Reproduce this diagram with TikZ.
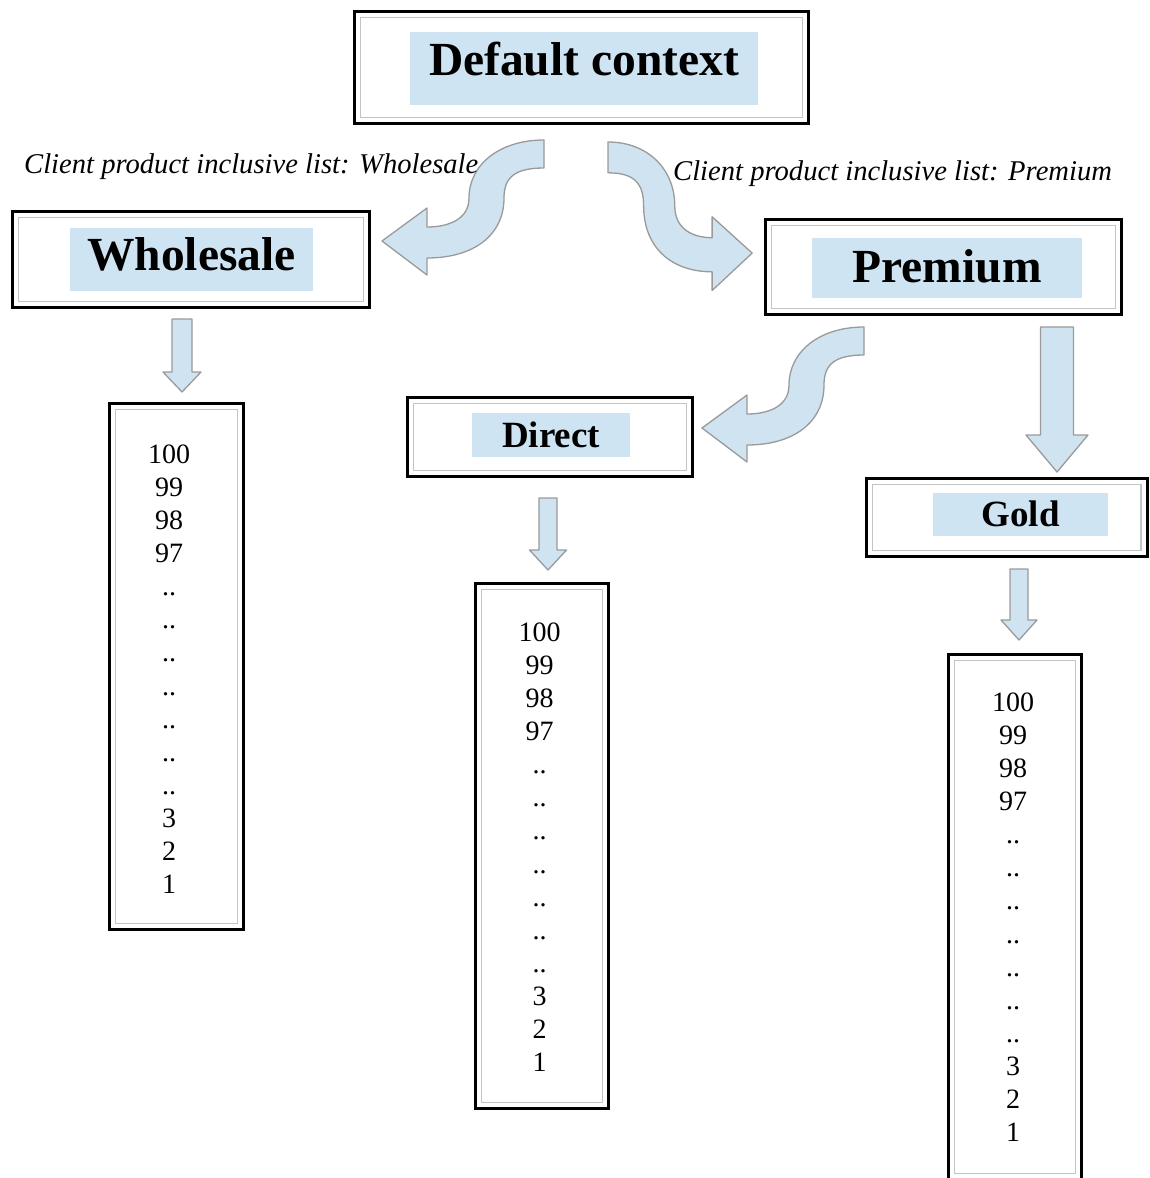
\documentclass[tikz,border=0pt]{standalone}
\usepackage{fontspec}
\setmainfont{Liberation Serif}
\usepackage{tikz}
\usepackage{xcolor}
\usetikzlibrary{calc}
\definecolor{tagblue}{HTML}{CFE4F3}
\definecolor{arrblue}{HTML}{CFE3F1}
\definecolor{arrgray}{HTML}{9A9A9A}
\definecolor{innergray}{HTML}{C4C4C4}
\newcommand{\rankgap}{..}
\newcommand{\ranklist}[3]{%
  \foreach \v [count=\k] in {100,99,98,97,\rankgap,\rankgap,\rankgap,\rankgap,\rankgap,\rankgap,\rankgap,3,2,1}
    \node[rankText] (#1-\k) at (#2,{#3+33.15*(\k-1)}) {\v};}
\tikzset{
  frameBox/.style={draw=black, line width=3pt, fill=white, inner sep=0pt,
    path picture={\draw[innergray, line width=1.6pt]
      ([shift={(6pt,-6pt)}]path picture bounding box.north west) rectangle
      ([shift={(-6pt,6pt)}]path picture bounding box.south east);}},
  tagBox/.style={fill=tagblue, inner sep=0pt, font=\bfseries\fontsize{47.5}{56}\selectfont},
  smallTag/.style={tagBox, font=\bfseries\fontsize{37}{44}\selectfont},
  noteText/.style={inner sep=0pt, anchor=base west, font=\itshape\fontsize{28.6}{33}\selectfont},
  rankText/.style={inner sep=0pt, anchor=base, font=\fontsize{28}{33}\selectfont},
  arrowShape/.style={draw=arrgray, fill=arrblue, line width=1.3pt, line join=round},
  pics/swoosh/.style={code={
    \draw[arrowShape] (0,0) .. controls (-45,0) and (-75,25) .. (-75,58)
      .. controls (-75,79) and (-95,87) .. (-117,87)
      -- (-117,68) -- (-162,101) -- (-117,135) -- (-117,118)
      .. controls (-70,118) and (-40,95) .. (-40,58)
      .. controls (-40,38) and (-30,28) .. (0,28) -- cycle;}},
  pics/downArrow/.style n args={4}{code={
    \draw[arrowShape] (-#2/2,0) -- (#2/2,0) -- (#2/2,#1-#4) -- (#3/2,#1-#4)
      -- (0,#1) -- (-#3/2,#1-#4) -- (-#2/2,#1-#4) -- cycle;}}
}

\begin{document}
\begin{tikzpicture}[x=1pt,y=-1pt]
  \useasboundingbox (0,0) rectangle (1150,1178);
  % boxes
  \node[frameBox, minimum width=454pt, minimum height=112pt] (defaultFrame) at (581.5,67.5) {};
  \node[tagBox, minimum width=348pt, text height=43pt, text depth=30pt] (defaultTag) at (584,68.5) {Default context};
  \node[frameBox, minimum width=357pt, minimum height=96pt] (wholesaleFrame) at (191,259.5) {};
  \node[tagBox, minimum width=243pt, text height=42pt, text depth=21pt] (wholesaleTag) at (191.5,259.5) {Wholesale};
  \node[frameBox, minimum width=356pt, minimum height=95pt] (premiumFrame) at (943.5,267) {};
  \node[tagBox, minimum width=270pt, text height=44pt, text depth=16pt] (premiumTag) at (947,268) {Premium};
  \node[frameBox, minimum width=285pt, minimum height=79pt] (directFrame) at (550,437) {};
  \node[smallTag, minimum width=158pt, text height=34pt, text depth=10pt] (directTag) at (551,435) {Direct};
  \node[frameBox, minimum width=280.5pt, minimum height=78pt] (goldFrame) at (1006.75,517.5) {};
  \node[smallTag, minimum width=175pt, text height=33pt, text depth=10pt] (goldTag) at (1020.5,514.5) {Gold};
  % lists
  \node[frameBox, minimum width=134pt, minimum height=526pt] (wholesaleList) at (176.5,666.5) {};
  \node[frameBox, minimum width=133pt, minimum height=525pt] (directList) at (542,846) {};
  \node[frameBox, minimum width=133pt, minimum height=525pt] (goldList) at (1015,917) {};
  \ranklist{w}{169}{463}
  \ranklist{d}{539.5}{641}
  \ranklist{g}{1013}{711}
  % block arrows
  \pic at (544,140) {swoosh};
  \pic[xscale=-0.89, yscale=1.1] at (608,142) {swoosh};
  \pic at (864,327) {swoosh};
  \pic at (182,319) {downArrow={73}{20}{38}{20}};
  \pic at (548,498) {downArrow={72}{18}{37}{20}};
  \pic at (1019,569) {downArrow={71}{18}{36}{20}};
  \pic at (1057,327) {downArrow={145}{33}{62}{37}};
  % notes
  \node[noteText] (wholesaleNote) at (24,173) {Client product inclusive list: Wholesale};
  \node[noteText] (premiumNote) at (673,180) {Client product inclusive list: Premium};
\end{tikzpicture}
\end{document}
